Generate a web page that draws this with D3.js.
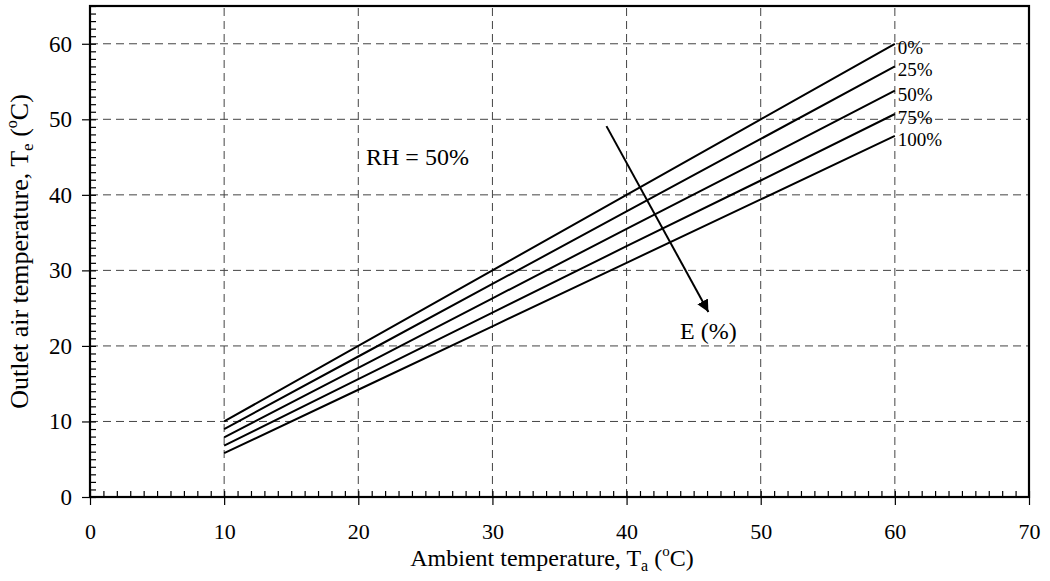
<!DOCTYPE html>
<html>
<head>
<meta charset="utf-8">
<script src="https://cdn.jsdelivr.net/npm/d3@7"></script>
<style>
  body { margin: 0; background: #fff; }
  svg { display: block; font-family: "Liberation Serif", "Times New Roman", serif; }
</style>
</head>
<body>
<svg class="chart"></svg>
<script>
const width = 1050;
const height = 581;
const margin = {top: 6, right: 21, bottom: 84, left: 90};

// ambient temperature (x) and outlet temperature for each effectiveness
const ambient = [10, 20, 30, 40, 50, 60];
const effLabels = ["0%", "25%", "50%", "75%", "100%"];
const e0 = [10.0, 20.0, 30.0, 40.0, 50.0, 60.0];
const e25 = [9.0, 18.6, 28.2, 37.8, 47.4, 57.0];
const e50 = [7.9, 17.1, 26.3, 35.5, 44.6, 53.8];
const e75 = [6.8, 15.6, 24.4, 33.2, 41.9, 50.7];
const e100 = [5.8, 14.2, 22.6, 31.0, 39.4, 47.8];
const xTicks = [0, 10, 20, 30, 40, 50, 60, 70];
const yTicks = [0, 10, 20, 30, 40, 50, 60];
const arrowFrom = [38.5, 49.1];
const arrowTo = [46.1, 24.5];

const series = [e0, e25, e50, e75, e100].map((vals, i) => ({
    label: effLabels[i],
    points: ambient.map((a, j) => [a, vals[j]])
}));

const svg = d3.select(".chart").attr("width", width).attr("height", height);

const x = d3.scaleLinear().domain([0, 70]).range([margin.left, width - margin.right]);
const y = d3.scaleLinear().domain([0, 65]).range([height - margin.bottom, margin.top]);

svg.append("defs").append("marker")
    .attr("id", "head")
    .attr("viewBox", "0 0 10 10")
    .attr("refX", 10).attr("refY", 5)
    .attr("markerWidth", 12).attr("markerHeight", 12)
    .attr("markerUnits", "userSpaceOnUse")
    .attr("orient", "auto")
  .append("path")
    .attr("d", "M0,0 L10,5 L0,10 z")
    .attr("fill", "#000");

// dashed grid
const grid = svg.append("g")
    .attr("stroke", "#444")
    .attr("stroke-width", 1)
    .attr("stroke-dasharray", "8,5");
grid.selectAll("line.v")
    .data(xTicks.filter(d => d > 0 && d < 70))
  .enter().append("line")
    .attr("class", "v")
    .attr("x1", d => x(d)).attr("x2", d => x(d))
    .attr("y1", y(0)).attr("y2", y(65));
grid.selectAll("line.h")
    .data(yTicks.filter(d => d > 0))
  .enter().append("line")
    .attr("class", "h")
    .attr("x1", x(0)).attr("x2", x(70))
    .attr("y1", d => y(d)).attr("y2", d => y(d));

// minor ticks (inside)
svg.append("g")
    .attr("transform", `translate(0,${y(0)})`)
    .call(d3.axisTop(x).tickValues(d3.range(0, 71, 1)).tickSize(6).tickFormat(""))
    .call(g => g.select(".domain").remove())
    .call(g => g.selectAll("line").attr("stroke-width", 1.2));
svg.append("g")
    .attr("transform", `translate(${x(0)},0)`)
    .call(d3.axisRight(y).tickValues(d3.range(0, 66, 1)).tickSize(6).tickFormat(""))
    .call(g => g.select(".domain").remove())
    .call(g => g.selectAll("line").attr("stroke-width", 1.2));

// major axes
svg.append("g")
    .attr("transform", `translate(0,${y(0)})`)
    .call(d3.axisBottom(x).tickValues(xTicks).tickSize(8).tickPadding(18).tickSizeOuter(0))
    .call(g => g.select(".domain").remove())
    .call(g => g.selectAll("line").attr("stroke-width", 1.2))
    .call(g => g.selectAll("text").attr("font-family", "Liberation Serif").attr("font-size", 22).attr("fill", "#000"));
svg.append("g")
    .attr("transform", `translate(${x(0)},0)`)
    .call(d3.axisLeft(y).tickValues(yTicks).tickSize(8).tickPadding(10).tickSizeOuter(0))
    .call(g => g.select(".domain").remove())
    .call(g => g.selectAll("line").attr("stroke-width", 1.2))
    .call(g => g.selectAll("text").attr("font-family", "Liberation Serif").attr("font-size", 23).attr("fill", "#000"));

// frame
svg.append("rect")
    .attr("x", x(0)).attr("y", y(65))
    .attr("width", x(70) - x(0)).attr("height", y(0) - y(65))
    .attr("fill", "none").attr("stroke", "#000").attr("stroke-width", 2.2);

// curves
const line = d3.line().x(d => x(d[0])).y(d => y(d[1]));
svg.append("g")
    .selectAll("path")
    .data(series)
  .enter().append("path")
    .attr("d", d => line(d.points))
    .attr("fill", "none")
    .attr("stroke", "#000")
    .attr("stroke-width", 2);

svg.append("g")
    .attr("font-size", 19)
    .selectAll("text")
    .data(series)
  .enter().append("text")
    .attr("x", d => x(d.points[d.points.length - 1][0]) + 3)
    .attr("y", d => y(d.points[d.points.length - 1][1]) + 10)
    .text(d => d.label);

// arrow and notes
svg.append("line")
    .attr("x1", x(arrowFrom[0])).attr("y1", y(arrowFrom[1]))
    .attr("x2", x(arrowTo[0])).attr("y2", y(arrowTo[1]))
    .attr("stroke", "#000").attr("stroke-width", 2)
    .attr("marker-end", "url(#head)");

svg.append("text")
    .attr("x", 366).attr("y", 165)
    .attr("font-size", 24)
    .text("RH = 50%");
svg.append("text")
    .attr("x", 680).attr("y", 339)
    .attr("font-size", 24)
    .text("E (%)");

// axis titles
const xt = svg.append("text")
    .attr("x", 552).attr("y", 566)
    .attr("text-anchor", "middle")
    .attr("font-size", 24);
xt.append("tspan").text("Ambient temperature, T");
xt.append("tspan").attr("font-size", 16).attr("dy", 5).text("a");
xt.append("tspan").attr("dy", -5).text(" (");
xt.append("tspan").attr("font-size", 15).attr("dy", -10).text("o");
xt.append("tspan").attr("dy", 10).text("C)");

const yt = svg.append("text")
    .attr("transform", `translate(28,${(y(0) + y(65)) / 2}) rotate(-90)`)
    .attr("text-anchor", "middle")
    .attr("font-size", 26);
yt.append("tspan").text("Outlet air temperature, T");
yt.append("tspan").attr("font-size", 17).attr("dy", 5).text("e");
yt.append("tspan").attr("dy", -5).text(" (");
yt.append("tspan").attr("font-size", 16).attr("dy", -11).text("o");
yt.append("tspan").attr("dy", 11).text("C)");
</script>
</body>
</html>
